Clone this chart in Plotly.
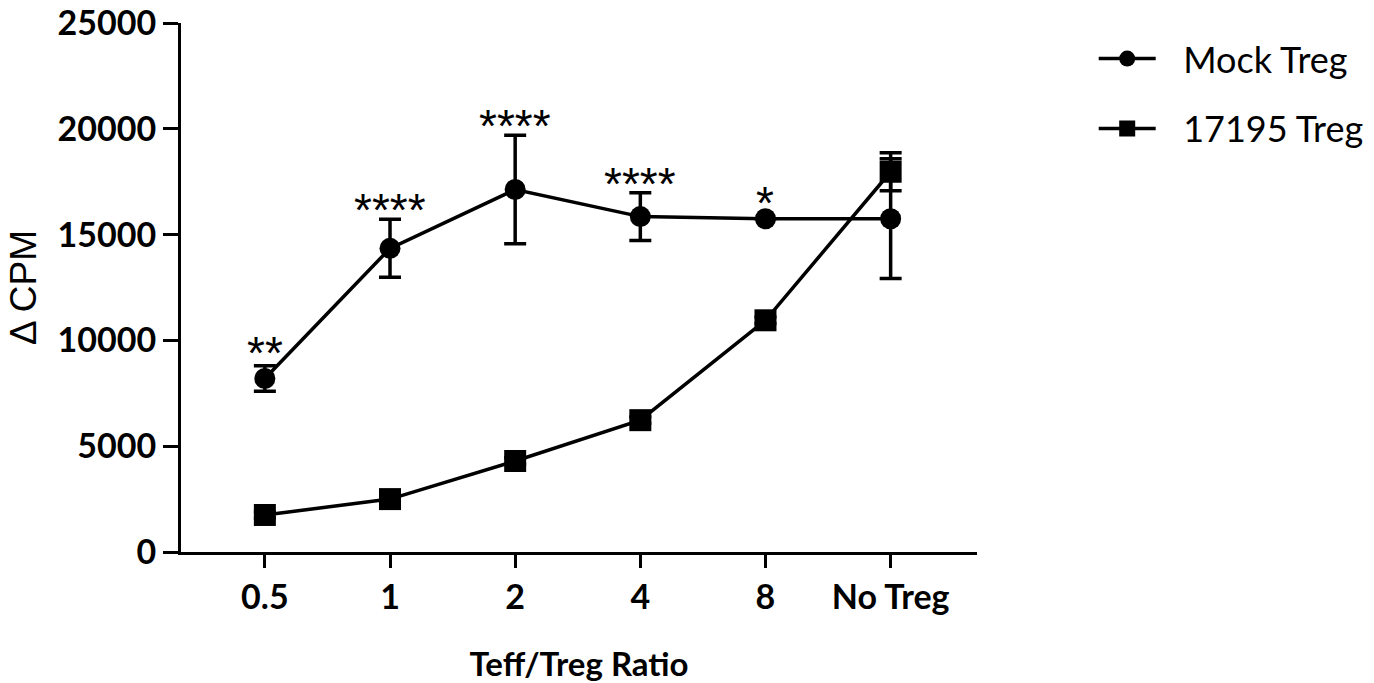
import plotly.graph_objects as go

categories = ["0.5", "1", "2", "4", "8", "No Treg"]
series_names = ["Mock Treg", "17195 Treg"]
mock_mean = [8200, 14350, 17130, 15850, 15750, 15750]
mock_err = [600, 1370, 2560, 1130, 0, 2830]
treg_mean = [1750, 2500, 4300, 6230, 10950, 17970]
treg_err = [150, 150, 150, 150, 150, 900]
sig_labels = ["**", "****", "****", "****", "*", ""]
y_ticks = [0, 5000, 10000, 15000, 20000, 25000]

xpos = list(range(len(categories)))
pad = "\u2002\u2009"

fig = go.Figure()
fig.add_trace(go.Scatter(
    x=xpos, y=mock_mean, name=pad + series_names[0], mode="lines+markers",
    line=dict(color="black", width=3.5),
    marker=dict(symbol="circle", size=21, color="black"),
    error_y=dict(type="data", array=mock_err, visible=True, color="black", thickness=3.5, width=11),
    legendgroup="a",
))
fig.add_trace(go.Scatter(
    x=xpos, y=treg_mean, name=pad + series_names[1], mode="lines+markers",
    line=dict(color="black", width=3.5),
    marker=dict(symbol="square", size=22, color="black"),
    error_y=dict(type="data", array=treg_err, visible=True, color="black", thickness=3.5, width=11),
    legendgroup="b",
))

for i, lab in enumerate(sig_labels):
    if not lab:
        continue
    top = mock_mean[i] + mock_err[i]
    fig.add_annotation(
        x=xpos[i], y=top, xref="x", yref="y", text=lab, showarrow=False,
        yanchor="bottom", yshift=(-19 if mock_err[i] > 1000 else -15) if mock_err[i] else -12,
        font=dict(family="Liberation Sans", size=46, color="black"),
    )

fig.update_layout(
    width=1374, height=683,
    paper_bgcolor="white", plot_bgcolor="white",
    margin=dict(l=181, r=397, t=23, b=131),
    showlegend=True,
    legend=dict(
        xref="container", yref="container",
        x=0.796, y=0.958, xanchor="left", yanchor="top",
        font=dict(family="Lato", size=36, color="black"),
        tracegroupgap=20, traceorder="grouped", itemwidth=57,
        bgcolor="rgba(0,0,0,0)",
    ),
    xaxis=dict(
        tickmode="array", tickvals=xpos, ticktext=categories,
        range=[-0.67, 5.69], showline=True, linecolor="black", linewidth=3,
        ticks="outside", ticklen=13, tickwidth=3, tickcolor="black",
        showgrid=False, zeroline=False, automargin=False,
        tickfont=dict(family="Lato", size=34, color="black", weight="bold"),
        title=dict(text="Teff/Treg Ratio", standoff=44,
                   font=dict(family="Lato", size=33, color="black", weight="bold")),
    ),
    yaxis=dict(
        range=[0, 25000], tickmode="array", tickvals=y_ticks,
        ticktext=[str(v) for v in y_ticks], ticklabeloverflow="allow",
        showline=True, linecolor="black", linewidth=3,
        ticks="outside", ticklen=15, tickwidth=3, tickcolor="black",
        showgrid=False, zeroline=False, automargin=False,
        tickfont=dict(family="Lato", size=34, color="black", weight="bold"),
        title=dict(text="\u0394 CPM", standoff=10,
                   font=dict(family="Liberation Sans", size=37, color="black")),
    ),
)

fig.write_html("out.html", config={"displayModeBar": False},
               post_script="document.body.style.margin='0';")
